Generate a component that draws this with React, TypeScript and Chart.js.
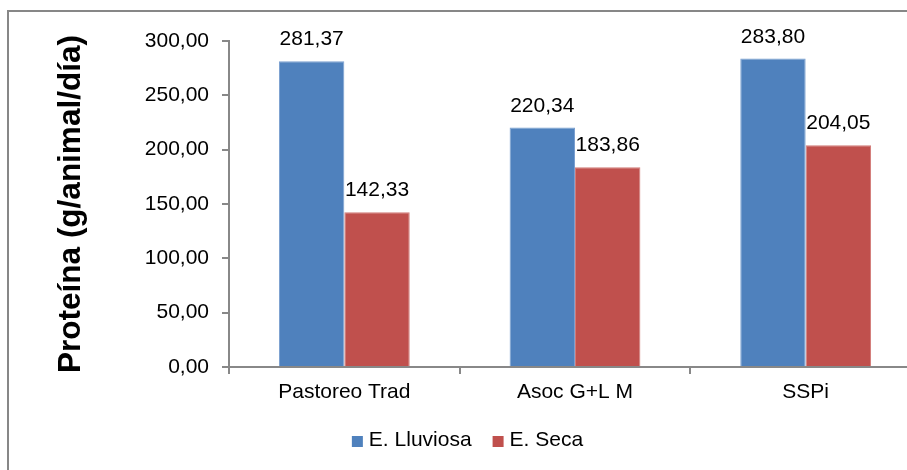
import { useEffect, useRef } from "react";
import { Chart, registerables } from "chart.js";

Chart.register(...registerables);

const categories = ["Pastoreo Trad", "Asoc G+L M", "SSPi"];
const seriesNames = ["E. Lluviosa", "E. Seca"];
const lluviosa = [281.37, 220.34, 283.8];
const seca = [142.33, 183.86, 204.05];
const yMin = 0;
const yMax = 300;
const yStep = 50;
const yTitle = "Proteína (g/animal/día)";
const seriesColors = ["#4F81BD", "#C0504D"];
const seriesBorders = ["#7A9FD0", "#D27A78"];

const FONT = '"Liberation Sans", Arial, Helvetica, sans-serif';
const AXIS_COLOR = "#888888";
const CANVAS_W = 935;
const CANVAS_H = 470;

const fmt = (v: number) => Number(v).toFixed(2).replace(".", ",");

const dataLabelsPlugin = {
  id: "dataLabels",
  afterDatasetsDraw(chart: any) {
    const ctx = chart.ctx;
    ctx.save();
    ctx.font = `21px ${FONT}`;
    ctx.fillStyle = "#000";
    ctx.textAlign = "center";
    ctx.textBaseline = "alphabetic";
    chart.data.datasets.forEach((ds: any, i: number) => {
      const meta = chart.getDatasetMeta(i);
      meta.data.forEach((el: any, j: number) => {
        ctx.fillText(fmt(ds.data[j]), el.x, el.y - 16);
      });
    });
    ctx.restore();
  },
};

const bottomLegendPlugin = {
  id: "bottomLegend",
  afterDraw(chart: any) {
    const ctx = chart.ctx;
    ctx.save();
    ctx.font = `21px ${FONT}`;
    ctx.textBaseline = "middle";
    ctx.textAlign = "left";
    const box = 11;
    const gap = 6;
    const between = 21;
    const items = chart.data.datasets.map((ds: any) => ({
      text: ds.label,
      color: ds.backgroundColor,
      w: ctx.measureText(ds.label).width,
    }));
    const total =
      items.reduce((s: number, it: any) => s + box + gap + it.w, 0) +
      between * (items.length - 1);
    let x = chart.width / 2 - total / 2;
    const y = 441;
    items.forEach((it: any) => {
      ctx.fillStyle = it.color;
      ctx.fillRect(x, y - 5, box, box);
      ctx.fillStyle = "#000";
      ctx.fillText(it.text, x + box + gap, y - 0.5);
      x += box + gap + it.w + between;
    });
    ctx.restore();
  },
};

export default function App() {
  const canvasRef = useRef<HTMLCanvasElement | null>(null);

  useEffect(() => {
    if (!canvasRef.current) return;
    Chart.defaults.font.family = FONT;
    Chart.defaults.color = "#000";
    const chart = new Chart(canvasRef.current, {
      type: "bar",
      data: {
        labels: categories,
        datasets: [
          {
            label: seriesNames[0],
            data: lluviosa,
            backgroundColor: seriesColors[0],
            borderColor: seriesBorders[0],
            borderWidth: 1,
            borderSkipped: "bottom",
          },
          {
            label: seriesNames[1],
            data: seca,
            backgroundColor: seriesColors[1],
            borderColor: seriesBorders[1],
            borderWidth: 1,
            borderSkipped: "bottom",
          },
        ],
      },
      options: {
        animation: false,
        responsive: false,
        events: [],
        layout: { padding: { left: 0, right: 14, top: 41, bottom: 0 } },
        datasets: {
          bar: { categoryPercentage: 0.567, barPercentage: 1 },
        },
        plugins: {
          legend: { display: false },
          tooltip: { enabled: false },
          title: { display: false },
        },
        scales: {
          x: {
            type: "category",
            afterFit: (scale: any) => {
              scale.height = 103;
            },
            border: { display: true, color: AXIS_COLOR, width: 2 },
            grid: {
              display: true,
              drawOnChartArea: false,
              drawTicks: true,
              tickLength: 7,
              color: AXIS_COLOR,
              lineWidth: 2,
              offset: true,
            },
            ticks: {
              padding: 6,
              color: "#000",
              font: { size: 21, family: FONT },
            },
          },
          y: {
            min: yMin,
            max: yMax,
            afterFit: (scale: any) => {
              scale.width = 229;
            },
            border: { display: true, color: AXIS_COLOR, width: 2 },
            grid: {
              display: true,
              drawOnChartArea: false,
              drawTicks: true,
              tickLength: 7,
              color: AXIS_COLOR,
              lineWidth: 2,
            },
            ticks: {
              stepSize: yStep,
              padding: 13,
              color: "#000",
              font: { size: 21, family: FONT },
              callback: (v: any) => fmt(Number(v)),
            },
            title: {
              display: true,
              text: yTitle,
              color: "#000",
              font: { size: 31.5, weight: "bold", family: FONT, lineHeight: 1.2 },
              padding: { top: 52, bottom: 0 },
            },
          },
        },
      },
      plugins: [dataLabelsPlugin, bottomLegendPlugin],
    } as any);
    return () => chart.destroy();
  }, []);

  return (
    <div
      style={{
        position: "absolute",
        left: 0,
        top: 0,
        width: 907,
        height: 470,
        overflow: "hidden",
        background: "#fff",
      }}
    >
      <div
        style={{
          position: "absolute",
          left: 7,
          top: 10,
          width: 1200,
          height: 1200,
          borderLeft: "2px solid #878787",
          borderTop: "2px solid #878787",
        }}
      />
      <canvas
        ref={canvasRef}
        width={CANVAS_W}
        height={CANVAS_H}
        style={{
          position: "absolute",
          left: 0,
          top: 0,
          width: CANVAS_W,
          height: CANVAS_H,
          display: "block",
        }}
      />
    </div>
  );
}
